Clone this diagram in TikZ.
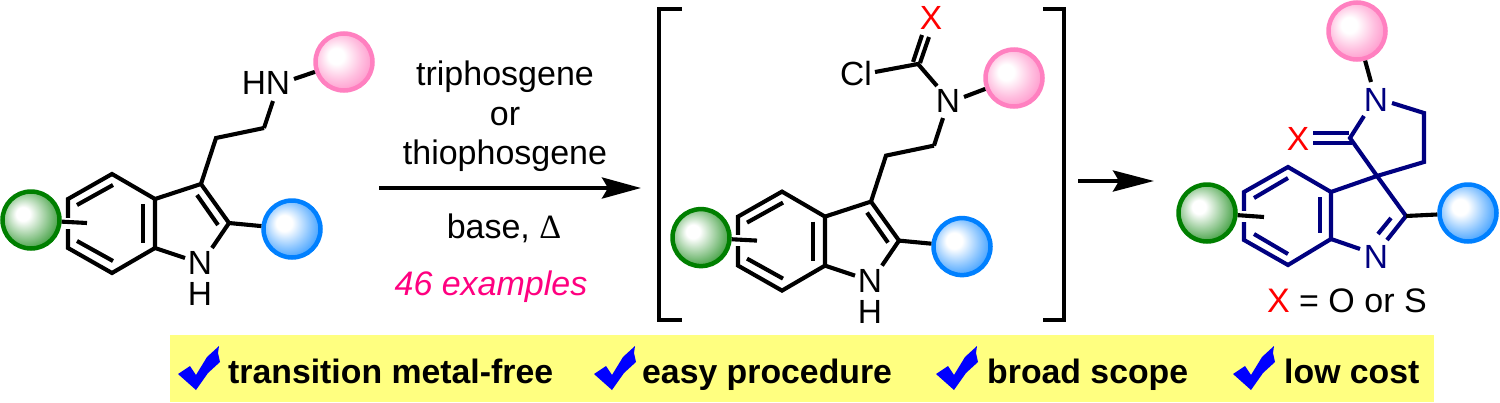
\documentclass[tikz,border=0pt]{standalone}
\usepackage{fontspec}
\setmainfont{Liberation Sans}
\newfontfamily\serifgreek{Liberation Serif}
\usetikzlibrary{arrows.meta}
\definecolor{navybond}{HTML}{000080}
\definecolor{barfill}{HTML}{FFFF80}
\definecolor{checkblue}{HTML}{0000FF}
\definecolor{exmag}{HTML}{FF0080}
\definecolor{grnedge}{HTML}{007F00}
\definecolor{pnkedge}{HTML}{FF80C0}
\definecolor{bluedge}{HTML}{0080FF}
\pgfdeclareradialshading{ballgreen}{\pgfpoint{-8bp}{6bp}}{color(0bp)=(white);color(6bp)=(white);color(20bp)=(grnedge!45!white);color(32bp)=(grnedge!85!white);color(38bp)=(grnedge);color(50bp)=(grnedge)}
\pgfdeclareradialshading{ballpink}{\pgfpoint{-8bp}{6bp}}{color(0bp)=(white);color(7bp)=(white);color(20bp)=(pnkedge!50!white);color(32bp)=(pnkedge!90!white);color(38bp)=(pnkedge);color(50bp)=(pnkedge)}
\pgfdeclareradialshading{ballblue}{\pgfpoint{-8bp}{6bp}}{color(0bp)=(white);color(7bp)=(white);color(20bp)=(bluedge!45!white);color(32bp)=(bluedge!85!white);color(38bp)=(bluedge);color(50bp)=(bluedge)}
\tikzset{
  bond/.style={line width=4.1pt,line join=miter,black},
  nbond/.style={line width=4.1pt,line join=miter,navybond},
  halo/.style={line width=11pt,white},
  atom/.style={inner sep=0pt,font=\fontsize{33.5}{36}\selectfont},
  ratom/.style={atom,text=red},
  reag/.style={inner sep=0pt,anchor=base,font=\fontsize{34}{36}\selectfont},
  perk/.style={inner sep=0pt,anchor=base west,font=\fontsize{33.8}{36}\selectfont\bfseries},
  ball/.style={circle,inner sep=0pt,minimum size=57pt,line width=4.5pt,shade},
  gball/.style={ball,draw=grnedge,shading=ballgreen},
  pball/.style={ball,draw=pnkedge,shading=ballpink},
  bball/.style={ball,draw=bluedge,shading=ballblue},
  arrowa/.style={line width=4.1pt,-{Stealth[length=39pt,width=21pt,inset=6pt]}},
  checkmk/.style={fill=checkblue,draw=none},
}
\newcommand{\indolecore}[1]{%
  \coordinate (#1top) at (112,174);
  \coordinate (#1ur) at (155,199);
  \coordinate (#1lr) at (155,248);
  \coordinate (#1bot) at (112,273);
  \coordinate (#1ll) at (68,248);
  \coordinate (#1ul) at (68,199);
  \coordinate (#1c3) at (201,184);
  \coordinate (#1c2) at (229,223);
  \coordinate (#1nb) at (185,258);
  \coordinate (#1na) at (212,248);
  \coordinate (#1sub) at (87,223);
  \coordinate (#1hl) at (60,223);
  \coordinate (#1hr) at (75,223);
  \coordinate (#1e1) at (216,138);
  \coordinate (#1e2) at (264,128);
  \draw[bond] (#1ul)--(#1top)--(#1ur)--(#1lr)--(#1bot)--(#1ll)--cycle;
  \draw[bond] (#1ur)--(#1c3)--(#1c2)--(#1na);
  \draw[bond] (#1lr)--(#1nb);
  \draw[bond] (#1c3)--(#1e1)--(#1e2);
  \coordinate (#1d1a) at (77,205); \coordinate (#1d1b) at (113,185);
  \coordinate (#1d2a) at (143,204); \coordinate (#1d2b) at (143,243);
  \coordinate (#1d3a) at (77,241); \coordinate (#1d3b) at (113,261);
  \coordinate (#1d4a) at (197,195); \coordinate (#1d4b) at (218,225);
  \draw[bond] (#1d1a)--(#1d1b);
  \draw[bond] (#1d2a)--(#1d2b);
  \draw[bond] (#1d3a)--(#1d3b);
  \draw[bond] (#1d4a)--(#1d4b);
  \draw[halo] (#1hl)--(#1hr);
  \node[atom] (#1N) at (200,263) {N};
  \node[atom] (#1H) at (200,294) {H};
  \node[gball] (#1green) at (31,220) {};
  \node[bball] (#1blue) at (292,229) {};
  \draw[bond] (#1green)--(#1sub);
  \draw[bond] (#1c2)--(#1blue);
}
\newcommand{\tickmark}[1]{%
  \begin{scope}[shift={(#1,0)}]
  \fill[checkmk] (178,374)--(190,366)--(196,375)--(207,357)--(219,346)--(218,353)--(220,362)--(208,373)--(196,390)--cycle;
  \end{scope}
}
\begin{document}
\begin{tikzpicture}[x=1pt,y=-1pt]
\useasboundingbox (0,0) rectangle (1500,402);
\fill[white] (0,0) rectangle (1500,402);
% perks bar
\fill[barfill] (170,335) rectangle (1434,402);
\tickmark{0}
\tickmark{416}
\tickmark{758}
\tickmark{1055}
\node[perk] (p1) at (228,383) {transition metal-free};
\node[perk] (p2) at (642,383) {easy procedure};
\node[perk] (p3) at (987,383) {broad scope};
\node[perk] (p4) at (1284,383) {low cost};
% left molecule
\begin{scope}
\indolecore{a}
\node[atom] (aHN) at (266,83) {HN};
\coordinate (aNe) at (273,101);
\draw[bond] (ae2)--(aNe);
\node[pball] (apink) at (344,62) {};
\coordinate (aNp) at (294,79);
\draw[bond] (aNp)--(apink);
\end{scope}
% reagents
\node[reag] (r1) at (505,85) {triphosgene};
\node[reag] (r2) at (505,125) {or};
\node[reag] (r3) at (505,164) {thiophosgene};
\node[reag] (r4) at (504,238) {base, {\serifgreek Δ}};
\node[reag,text=exmag,font=\fontsize{34}{36}\selectfont\itshape] (r5) at (491,295) {46 examples};
\coordinate (m1) at (379,188);
\coordinate (m2) at (641,188);
\draw[arrowa] (m1)--(m2);
% brackets
\coordinate (bl1) at (682,9); \coordinate (bl2) at (659,9); \coordinate (bl3) at (659,320); \coordinate (bl4) at (682,320);
\coordinate (br1) at (1043,9); \coordinate (br2) at (1064,9); \coordinate (br3) at (1064,320); \coordinate (br4) at (1043,320);
\draw[bond] (bl1)--(bl2)--(bl3)--(bl4);
\draw[bond] (br1)--(br2)--(br3)--(br4);
% middle molecule
\begin{scope}[shift={(670,17.6)}]
\indolecore{b}
\end{scope}
\coordinate (bNe) at (943,118);
\draw[bond] (be2)--(bNe);
\node[atom] (bNn) at (948,101) {N};
\coordinate (bNc) at (937,86);
\coordinate (bC) at (918,64);
\coordinate (bClE) at (875,72);
\draw[bond] (bNc)--(bC)--(bClE);
\node[atom] (bCl) at (856,74) {Cl};
\coordinate (bx1a) at (913,62); \coordinate (bx1b) at (922,35);
\coordinate (bx2a) at (920,63); \coordinate (bx2b) at (929,37);
\draw[bond] (bx1a)--(bx1b);
\draw[bond] (bx2a)--(bx2b);
\node[ratom] (bX) at (931,18) {X};
\node[pball] (bpink) at (1014,78) {};
\coordinate (bNp) at (964,97);
\draw[bond] (bNp)--(bpink);
% second arrow
\coordinate (s1) at (1078,181);
\coordinate (s2) at (1154,181);
\draw[line width=4.1pt,-{Stealth[length=41pt,width=21pt,inset=6pt]}] (s1)--(s2);
% product
\coordinate (ctop) at (1288,167);
\coordinate (cur) at (1331,192);
\coordinate (clr) at (1331,239);
\coordinate (cbot) at (1288,265);
\coordinate (cll) at (1244,240);
\coordinate (cul) at (1244,192);
\coordinate (cspiro) at (1377,176);
\coordinate (cc2) at (1406,216);
\coordinate (cn1) at (1387,240);
\coordinate (cnb) at (1360,249);
\coordinate (cd1a) at (1254,198); \coordinate (cd1b) at (1288,178);
\coordinate (cd2a) at (1320,197); \coordinate (cd2b) at (1320,233);
\coordinate (cd3a) at (1254,234); \coordinate (cd3b) at (1288,254);
\coordinate (cd4a) at (1391,218); \coordinate (cd4b) at (1378,234);
\coordinate (cco) at (1350,138);
\coordinate (cnc) at (1364,116);
\coordinate (cnr) at (1392,103);
\coordinate (cch1) at (1424,113);
\coordinate (cch2) at (1424,162);
\coordinate (cx1a) at (1313,133); \coordinate (cx1b) at (1349,133);
\coordinate (cx2a) at (1313,143); \coordinate (cx2b) at (1352,143);
\draw[nbond] (cul)--(ctop)--(cur)--(clr)--(cbot)--(cll)--cycle;
\draw[nbond] (cd1a)--(cd1b);
\draw[nbond] (cd2a)--(cd2b);
\draw[nbond] (cd3a)--(cd3b);
\draw[nbond] (cur)--(cspiro)--(cc2)--(cn1);
\draw[nbond] (cd4a)--(cd4b);
\draw[nbond] (clr)--(cnb);
\draw[nbond] (cspiro)--(cco)--(cnc);
\draw[nbond] (cnr)--(cch1)--(cch2)--(cspiro);
\draw[nbond] (cx1a)--(cx1b);
\draw[nbond] (cx2a)--(cx2b);
\coordinate (chl) at (1236,216); \coordinate (chr) at (1251,216);
\draw[halo] (chl)--(chr);
\node[atom,text=navybond] (cN1) at (1376,100) {N};
\node[atom,text=navybond] (cN2) at (1376,257) {N};
\node[ratom] (cX) at (1298,139) {X};
\node[gball] (cgreen) at (1207,213) {};
\node[bball] (cblue) at (1468,213) {};
\node[pball] (cpink) at (1357,31) {};
\coordinate (csub) at (1264,217);
\coordinate (cNp) at (1371,82);
\draw[bond] (cgreen)--(csub);
\draw[bond] (cc2)--(cblue);
\draw[bond] (cpink)--(cNp);
\node[reag,anchor=base west,text=red] (cX2) at (1267,312) {X};
\node[reag,anchor=base west] (cXt) at (1299,312) {= O or S};
\end{tikzpicture}
\end{document}
